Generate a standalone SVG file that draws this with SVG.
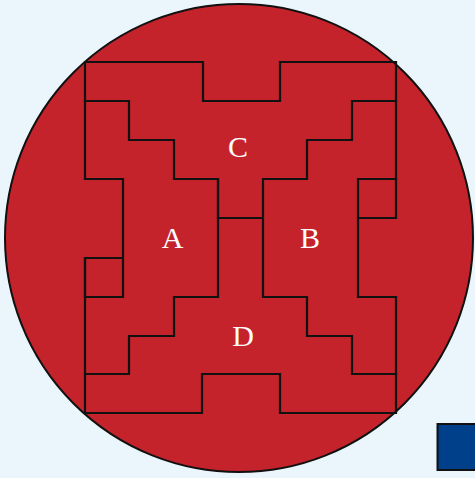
<svg xmlns="http://www.w3.org/2000/svg" width="475" height="478" viewBox="0 0 475 478">
<style>
.ln{fill:none;stroke:#111;stroke-width:2.2;stroke-linejoin:miter;stroke-linecap:square}
.lbl{font-family:"Liberation Serif",serif;font-size:30px;fill:#fff;text-anchor:middle}
</style>
<rect width="475" height="478" fill="#EAF6FC"/>
<g id="disc">
<circle cx="239" cy="238" r="234" fill="#C4232B" stroke="#111" stroke-width="2"/>
</g>
<g id="connectors">
<path class="ln" d="M85,179 V62 H203 V101 H280 V62 H396 V179"/>
<path class="ln" d="M85,101 H129 V140 H174 V179 H218 V218 H263 V179 H307 V140 H352 V101 H396"/>
<path class="ln" d="M85,179 H123 V297 H85 V258 H123"/>
<path class="ln" d="M396,179 H358 V297 H396 M358,218 H396 V179"/>
<path class="ln" d="M218,179 V297 H174 V336 H129 V374 H85"/>
<path class="ln" d="M263,218 V297 H307 V336 H352 V374 H396"/>
<path class="ln" d="M85,258 V413 H202 V374 H280 V413 H396 V297"/>
</g>
<g id="C"><text class="lbl" x="238" y="157">C</text></g>
<g id="A"><text class="lbl" x="172.5" y="248">A</text></g>
<g id="B"><text class="lbl" x="310" y="248">B</text></g>
<g id="D"><text class="lbl" x="243" y="346">D</text></g>
<g id="legend"><rect x="437.5" y="424" width="46" height="46" fill="#003F8A" stroke="#111" stroke-width="2"/></g>
</svg>
